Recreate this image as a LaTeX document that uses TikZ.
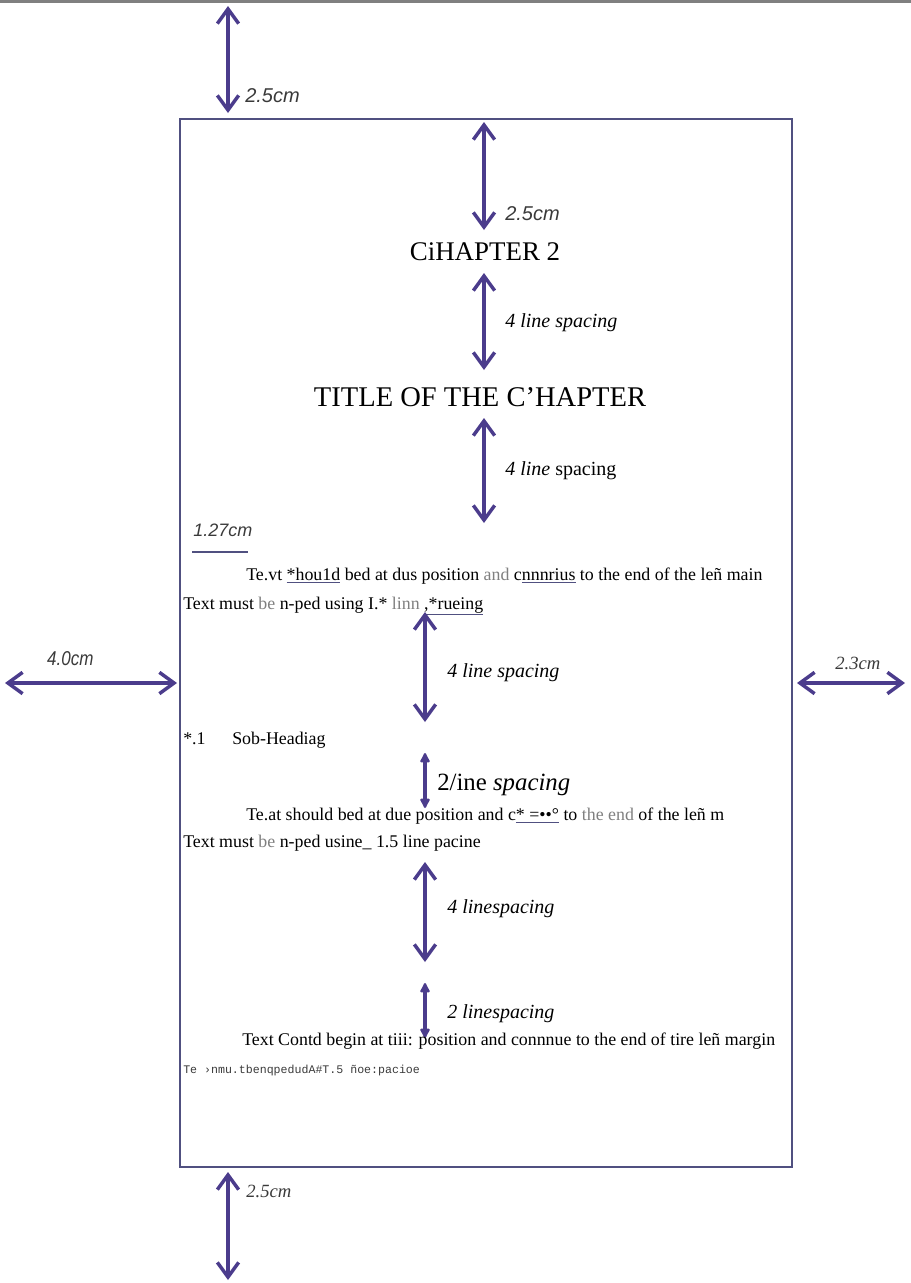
\documentclass[tikz,border=0pt]{standalone}
\usepackage{fontspec}
\setmainfont{Liberation Serif}
\setsansfont{Liberation Sans}
\setmonofont{Liberation Mono}
\usetikzlibrary{arrows.meta}
\definecolor{Acolor}{HTML}{4b3c8c}
\definecolor{Fcolor}{HTML}{505080}
\definecolor{Gcolor}{HTML}{808080}
\definecolor{Lcolor}{HTML}{3a3a3a}
\tikzstyle{arrow} = [line width=2.8pt, draw=Acolor, <->, >={Straight Barb[length=11pt,width=16pt,line width=2.6pt]}]
\tikzstyle{shortarrow} = [line width=2.8pt, draw=Acolor, <->, >={Latex[length=9pt,width=9pt,round]}]
\tikzstyle{body} = [anchor=base west, inner sep=0pt, font=\fontsize{13.4}{16}\selectfont]
\tikzstyle{head} = [anchor=base, inner sep=0pt, font=\fontsize{21.4}{25}\selectfont]
\tikzstyle{spacing} = [anchor=base west, inner sep=0pt, font=\fontsize{15}{18}\selectfont\itshape]
\tikzstyle{cmsans} = [anchor=base west, inner sep=0pt, text=Lcolor, font=\fontsize{15}{18}\sffamily\itshape]
\tikzstyle{cmserif} = [anchor=base west, inner sep=0pt, text=Lcolor, font=\fontsize{14}{17}\selectfont\itshape]
\tikzstyle{frame} = [line width=1.5pt, draw=Fcolor]
\newcommand{\ulw}[1]{{\color{Fcolor}\underline{\color{black}#1}}}
\newcommand{\gw}[1]{\textcolor{Gcolor}{#1}}

\begin{document}
\begin{tikzpicture}[x=0.75pt, y=-0.75pt]
\useasboundingbox (0,0) rectangle (911,1283);

\draw[line width=2.2pt, draw=Gcolor] (0,1.5) -- (911,1.5);
\draw[frame] (180,119) rectangle (792,1167);

% outer margins
\coordinate (top1) at (228,6);
\coordinate (top2) at (228,113);
\coordinate (bot1) at (228,1172);
\coordinate (bot2) at (228,1280);
\coordinate (left1) at (5,683);
\coordinate (left2) at (177,683);
\coordinate (right1) at (797,683);
\coordinate (right2) at (905,683);
\draw[arrow] (top1) -- (top2);
\draw[arrow] (bot1) -- (bot2);
\draw[arrow] (left1) -- (left2);
\draw[arrow] (right1) -- (right2);
\node (toplab) [cmsans] at (245,102) {2.5cm};
\node (botlab) [cmserif] at (246,1197) {2.5cm};
\node (leftlab) [cmsans, xscale=0.85] at (47,665) {4.0cm};
\node (rightlab) [cmserif] at (835,669) {2.3cm};

% chapter head
\node (chapter) [head, font=\fontsize{20.2}{24}\selectfont] at (485,260) {CiHAPTER 2};
\node (title) [head] at (480,406) {TITLE OF THE C’HAPTER};
\coordinate (c1) at (484,122);
\coordinate (c2) at (484,230);
\coordinate (c3) at (484,273);
\coordinate (c4) at (484,370);
\coordinate (c5) at (484,418);
\coordinate (c6) at (484,523);
\draw[arrow] (c1) -- (c2);
\draw[arrow] (c3) -- (c4);
\draw[arrow] (c5) -- (c6);
\node (marglab) [cmsans] at (505,220) {2.5cm};
\node (sp1) [spacing] at (505,327) {4 line spacing};
\node (sp2) [spacing] at (505,475) {4 \textit{line} \upshape spacing};

% indent
\node (indlab) [cmsans, font=\fontsize{13.5}{16}\sffamily\itshape] at (193,536) {1.27cm};
\coordinate (ind1) at (192,552);
\coordinate (ind2) at (248,552);
\draw[line width=1.2pt, draw=Fcolor] (ind1) -- (ind2);

% first paragraph
\node (par1a) [body] at (246,580) {Te.vt \ulw{*hou1d} bed at dus position \gw{and} c\ulw{nnnrius} to the end of the leñ main};
\node (par1b) [body] at (183,609) {Text must \gw{be} n-ped using I.* \gw{linn} \ulw{,*rueing}};
\coordinate (p1) at (425,612);
\coordinate (p2) at (425,722);
\draw[arrow] (p1) -- (p2);
\node (sp3) [spacing] at (447,677) {4 line spacing};

% sub heading
\node (subnum) [body] at (183,744) {*.1};
\node (subhead) [body] at (232,744) {Sob-Headiag};
\coordinate (s1) at (425,753);
\coordinate (s2) at (425,808);
\draw[shortarrow] (s1) -- (s2);
\node (sp4) [anchor=base west, inner sep=0pt, font=\fontsize{18.6}{22}\selectfont] at (437,790) {2/ine \textit{spacing}};

% second paragraph
\node (par2a) [body] at (246,820) {Te.at should bed at due position and c\ulw{ * =••°} to \gw{the} \gw{end} of the leñ m};
\node (par2b) [body] at (183,847) {Text must \gw{be} n-ped usine\_ 1.5 line pacine};
\coordinate (q1) at (425,862);
\coordinate (q2) at (425,962);
\draw[arrow] (q1) -- (q2);
\node (sp5) [spacing] at (447,913) {4 linespacing};
\coordinate (r1) at (425,983);
\coordinate (r2) at (425,1038);
\draw[shortarrow] (r1) -- (r2);
\node (sp6) [spacing] at (447,1018) {2 linespacing};

% third paragraph
\node (par3a) [body] at (242,1045) {Text Contd begin at tiii: position and connnue to the end of tire leñ margin};
\node (par3b) [anchor=base west, inner sep=0pt, text=Lcolor, font=\fontsize{8.7}{10}\ttfamily] at (183,1073) {Te ›nmu.tbenqpedudA\#T.5 ñoe:pacioe};

\end{tikzpicture}
\end{document}
